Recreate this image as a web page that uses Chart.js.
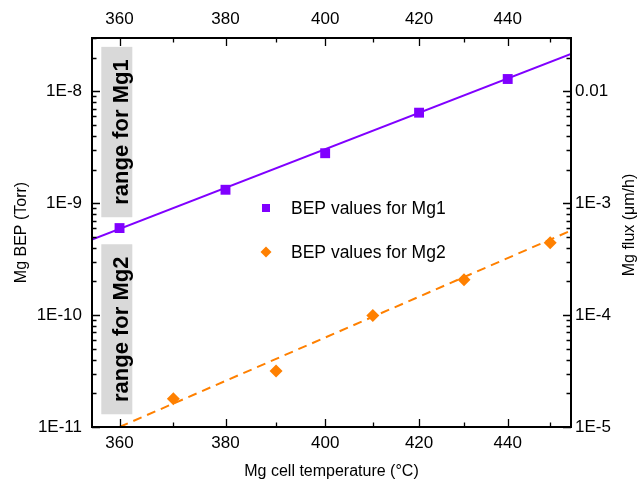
<!DOCTYPE html>
<html>
<head>
<meta charset="utf-8">
<script src="https://cdn.jsdelivr.net/npm/chart.js@4/dist/chart.umd.min.js"></script>
<style>
  html, body { margin: 0; padding: 0; background: #fff; }
  #wrap { width: 641px; height: 481px; position: relative; }
</style>
</head>
<body>
<div id="wrap"><canvas id="c"></canvas></div>
<script>
// ---------- data ----------
const xTickTemps = [360, 370, 380, 390, 400, 410, 420, 430, 440, 450];   // °C
const xRange = [355, 455];                                               // °C
const yRange = [1e-11, 3e-8];                                            // Torr
const yLeftMajorLabels  = ['1E-11', '1E-10', '1E-9', '1E-8'];
const yRightMajorLabels = ['1E-5', '1E-4', '1E-3', '0.01'];

const mg1Temp = [360, 380, 400, 420, 440];
const mg1BEP  = [6.0e-10, 1.32e-9, 2.8e-9, 6.45e-9, 1.29e-8];
const mg1FitTemp = [355, 455];
const mg1FitBEP  = [4.74e-10, 2.16e-8];

const mg2Temp = [370, 390, 410, 430, 450];
const mg2BEP  = [1.79e-11, 3.16e-11, 9.9e-11, 2.07e-10, 4.43e-10];
const mg2FitTemp = [360, 455];
const mg2FitBEP  = [1.0e-11, 5.7e-10];

const rangeLabels = ['range for Mg1', 'range for Mg2'];
const rangeTop    = [2.5e-8, 4.3e-10];
const rangeBottom = [7.5e-10, 1.3e-11];
const rangeTemp   = 359.5;

const legendLabels = ['BEP values for Mg1', 'BEP values for Mg2'];

// ---------- helpers ----------
const FONT = "'Liberation Sans', Arial, sans-serif";
const PURPLE = '#8000ff';
const ORANGE = '#ff8000';
const invT = t => 1000 / (t + 273.15);          // Arrhenius axis (1000/K)
const toC = u => 1000 / u - 273.15;
const pts = (xs, ys) => xs.map((t, i) => ({ x: invT(t), y: ys[i] }));

function logTicks() {
  const out = [];
  const e0 = Math.round(Math.log10(yRange[0]));
  const e1 = Math.floor(Math.log10(yRange[1]));
  for (let e = e0; e <= e1; e++) {
    for (let m = 1; m <= 9; m++) {
      const v = parseFloat(m + 'e' + e);
      if (v >= yRange[0] * 0.999 && v <= yRange[1] * 1.001) out.push({ value: v, major: m === 1 });
    }
  }
  return out;
}
function majorIndex(v) {
  const l = Math.log10(v);
  const e = Math.round(l);
  if (Math.abs(l - e) < 1e-6) return e - Math.round(Math.log10(yRange[0]));
  return -1;
}

const xScaleBase = {
  type: 'linear',
  reverse: true,
  min: invT(xRange[1]),
  max: invT(xRange[0]),
  afterBuildTicks: s => { s.ticks = xTickTemps.map(t => ({ value: invT(t) })); },
  grid: { display: false, drawTicks: false },
  border: { display: false },
};
const xTickOpts = (pad) => ({
  autoSkip: false, maxRotation: 0, padding: pad,
  color: '#000', font: { family: FONT, size: 17 },
  callback: v => { const t = Math.round(toC(v)); return t % 20 === 0 ? String(t) : ''; }
});
const yScaleBase = {
  type: 'logarithmic',
  min: yRange[0],
  max: yRange[1],
  afterBuildTicks: s => { s.ticks = logTicks(); },
  grid: { display: false, drawTicks: false },
  border: { display: false },
};

// ---------- plugins ----------
const framePlugin = {
  id: 'frameTicks',
  beforeDatasetsDraw(chart) {
    const ctx = chart.ctx, y = chart.scales.y, x = chart.scales.x;
    ctx.save();
    ctx.fillStyle = '#d9d9d9';
    ctx.fillStyle = '#d9d9d9';
    rangeLabels.forEach((lab, i) => {
      const cx = x.getPixelForValue(invT(rangeTemp));
      const top = y.getPixelForValue(rangeTop[i]);
      const bot = y.getPixelForValue(rangeBottom[i]);
      ctx.fillStyle = '#d9d9d9';
      ctx.fillRect(cx - 15.5, top, 31, bot - top);
      ctx.save();
      ctx.translate(cx + 11, (top + bot) / 2);
      ctx.rotate(-Math.PI / 2);
      ctx.fillStyle = '#000';
      ctx.font = "bold 22px " + FONT;
      ctx.textAlign = 'center';
      ctx.textBaseline = 'alphabetic';
      ctx.fillText(lab, 0, 0);
      ctx.restore();
    });
    ctx.restore();
  },
  afterDatasetsDraw(chart) {
    const ctx = chart.ctx, a = chart.chartArea;
    const x = chart.scales.x, y = chart.scales.y;
    ctx.save();
    ctx.strokeStyle = '#000';
    ctx.lineWidth = 1.3;
    ctx.beginPath();
    xTickTemps.forEach(t => {
      const px = Math.round(x.getPixelForValue(invT(t))) + 0.5;
      const len = t % 20 === 0 ? 8 : 4.5;
      ctx.moveTo(px, a.bottom); ctx.lineTo(px, a.bottom - len);
      ctx.moveTo(px, a.top); ctx.lineTo(px, a.top + len);
    });
    logTicks().forEach(tk => {
      const py = Math.round(y.getPixelForValue(tk.value)) + 0.5;
      const len = tk.major ? 8 : 4.5;
      ctx.moveTo(a.left, py); ctx.lineTo(a.left + len, py);
      ctx.moveTo(a.right, py); ctx.lineTo(a.right - len, py);
    });
    ctx.stroke();
    ctx.lineWidth = 2;
    ctx.strokeRect(a.left, a.top, a.right - a.left, a.bottom - a.top);

    // legend (inside plot)
    const lx = a.left + 174, ly = [a.top + 170, a.top + 214];
    ctx.font = "17.5px " + FONT;
    ctx.textBaseline = 'middle';
    ctx.textAlign = 'left';
    ctx.fillStyle = PURPLE;
    ctx.fillRect(lx - 4, ly[0] - 4, 8, 8);
    ctx.fillStyle = ORANGE;
    ctx.beginPath();
    ctx.moveTo(lx, ly[1] - 5.5); ctx.lineTo(lx + 5.5, ly[1]);
    ctx.lineTo(lx, ly[1] + 5.5); ctx.lineTo(lx - 5.5, ly[1]); ctx.closePath();
    ctx.fill();
    ctx.fillStyle = '#000';
    legendLabels.forEach((l, i) => ctx.fillText(l, lx + 25, ly[i] + 1));

    // right axis title
    ctx.save();
    ctx.translate(630, 225);
    ctx.rotate(-Math.PI / 2);
    ctx.font = "16px " + FONT;
    ctx.textAlign = 'center';
    ctx.textBaseline = 'middle';
    ctx.fillText('Mg flux (\u03bcm/h)', 0, 0);
    ctx.restore();
    ctx.restore();
  }
};

// ---------- chart ----------
new Chart(document.getElementById('c'), {
  type: 'scatter',
  data: {
    datasets: [
      { label: 'Mg1 fit', data: pts(mg1FitTemp, mg1FitBEP), showLine: true, borderColor: PURPLE,
        borderWidth: 2, pointRadius: 0, xAxisID: 'x', yAxisID: 'y' },
      { label: 'Mg2 fit', data: pts(mg2FitTemp, mg2FitBEP), showLine: true, borderColor: ORANGE,
        borderWidth: 2, borderDash: [9, 6], pointRadius: 0, xAxisID: 'x', yAxisID: 'y' },
      { label: legendLabels[0], data: pts(mg1Temp, mg1BEP), pointStyle: 'rect', pointRadius: 7,
        backgroundColor: PURPLE, borderColor: PURPLE, borderWidth: 0, xAxisID: 'x', yAxisID: 'y' },
      { label: legendLabels[1], data: pts(mg2Temp, mg2BEP), pointStyle: 'rectRot', pointRadius: 6.5,
        backgroundColor: ORANGE, borderColor: ORANGE, borderWidth: 0, xAxisID: 'x', yAxisID: 'y' },
    ]
  },
  plugins: [framePlugin],
  options: {
    responsive: true,
    maintainAspectRatio: false,
    animation: false,
    layout: { padding: 0 },
    plugins: { legend: { display: false }, tooltip: { enabled: false } },
    scales: {
      x: Object.assign({}, xScaleBase, {
        position: 'bottom',
        ticks: xTickOpts(6),
        title: { display: true, text: 'Mg cell temperature (\u00b0C)', color: '#000',
                 font: { family: FONT, size: 16 }, padding: { top: 0, bottom: 0 } },
        afterFit: s => { s.height = 54; }
      }),
      x2: Object.assign({}, xScaleBase, {
        axis: 'x',
        position: 'top',
        ticks: xTickOpts(8),
        afterFit: s => { s.height = 38; }
      }),
      y: Object.assign({}, yScaleBase, {
        position: 'left',
        ticks: { autoSkip: false, padding: 10, color: '#000', font: { family: FONT, size: 17 },
                 callback: v => { const i = majorIndex(v); return i >= 0 ? yLeftMajorLabels[i] : ''; } },
        title: { display: true, text: 'Mg BEP (Torr)', color: '#000',
                 font: { family: FONT, size: 16 }, padding: { top: 12, bottom: 0 } },
        afterFit: s => { s.width = 92; }
      }),
      y2: Object.assign({}, yScaleBase, {
        axis: 'y',
        position: 'right',
        ticks: { autoSkip: false, padding: 4, color: '#000', font: { family: FONT, size: 17 },
                 callback: v => { const i = majorIndex(v); return i >= 0 ? yRightMajorLabels[i] : ''; } },
        afterFit: s => { s.width = 70; }
      }),
    }
  }
});
</script>
</body>
</html>
